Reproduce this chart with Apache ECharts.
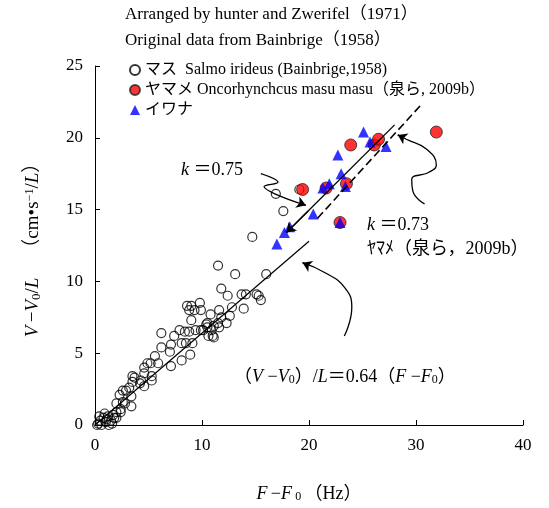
<!DOCTYPE html>
<html>
<head>
<meta charset="utf-8">
<script src="https://cdn.jsdelivr.net/npm/echarts@6/dist/echarts.min.js"></script>
<style>
  html, body { margin: 0; background: #fff; }
  #chart { width: 549px; height: 508px; }
</style>
</head>
<body>
<div id="chart"></div>
<script>
// マス (Bainbrige, 1958), open circles
const masuData = [
  [0.2, 0.0], [0.3, 0.1], [0.5, 0.3], [0.6, 0.0], [0.8, 0.5], [1.0, 0.2], [1.1, 0.4], [1.2, 0.6],
  [1.3, 0.0], [1.5, 0.3], [1.6, 0.1], [0.9, 0.8], [0.4, 0.6], [1.8, 0.5], [1.7, 0.7], [2.0, 0.5],
  [2.4, 0.9], [2.0, 0.9], [2.4, 1.1], [2.0, 1.5], [2.6, 1.6], [2.8, 1.5], [3.4, 1.3], [3.4, 2.0],
  [2.3, 2.1], [2.6, 2.4], [2.9, 2.4], [3.2, 2.6], [3.5, 3.0], [3.7, 3.3], [4.2, 2.9], [4.6, 2.7],
  [4.3, 3.1], [3.5, 3.4], [4.6, 3.6], [5.3, 3.4], [5.3, 3.1], [4.6, 4.0], [4.9, 4.3], [5.2, 4.3],
  [5.9, 4.3], [5.6, 4.8], [7.1, 4.1], [8.1, 4.5], [8.9, 4.9], [7.0, 5.1], [7.1, 5.6], [6.2, 5.4],
  [8.1, 5.7], [8.5, 5.7], [9.1, 5.7], [6.2, 6.4], [7.4, 6.2], [7.9, 6.6], [8.4, 6.5], [8.8, 6.5],
  [9.4, 6.6], [9.9, 6.6], [10.1, 6.6], [9.0, 7.3], [10.5, 7.1], [10.4, 7.0], [10.5, 6.8], [10.9, 6.6],
  [11.0, 6.2], [10.6, 6.2], [11.1, 6.1], [11.1, 6.9], [11.6, 6.8], [11.5, 7.1], [12.3, 7.1], [10.8, 7.7],
  [11.8, 7.5], [12.6, 7.6], [11.6, 8.0], [12.8, 8.2], [13.9, 8.1], [8.8, 8.0], [9.3, 8.0], [9.9, 8.0],
  [8.6, 8.3], [9.0, 8.3], [9.8, 8.5], [11.8, 9.5], [12.4, 9.0], [13.7, 9.1], [14.1, 9.1], [15.1, 9.1],
  [15.3, 9.0], [15.5, 8.7], [11.5, 11.1], [13.1, 10.5], [16.0, 10.5], [14.7, 13.1], [17.6, 14.9],
  [16.9, 16.1], [19.1, 16.4]
];

// ヤマメ (泉ら, 2009b), red circles
const yamameData = [
  [19.4, 16.4], [21.6, 16.5], [23.5, 16.8], [22.9, 14.1], [23.9, 19.5], [26.1, 19.5], [26.5, 19.9], [31.9, 20.4]
];

// イワナ, blue triangles
const iwanaData = [
  [17.0, 12.6], [17.7, 13.4], [18.2, 13.8], [20.4, 14.7], [21.3, 16.5], [21.9, 16.8], [23.4, 16.6],
  [23.0, 17.5], [22.7, 18.8], [22.9, 14.1], [25.1, 20.4], [25.7, 19.7], [27.2, 19.4]
];

// regression lines
const fit064 = [[0, 0], [20.0, 12.8]];
const fit075 = [[28.0, 20.9], [17.9, 13.4]];
const fit073 = [[20.8, 14.4], [30.6, 22.4]];

// curved annotation arrows (last point = arrow tip)
const arrowK075 = [[15.5, 17.5], [17.1, 16.9], [15.8, 16.6], [16.8, 16.1], [19.7, 15.3]];
const arrowK073 = [[30.8, 15.4], [29.7, 16.3], [29.6, 17.1], [31.2, 17.6], [31.9, 18.1], [31.0, 19.2], [29.1, 19.9], [28.3, 20.2]];
const arrowK064 = [[23.3, 6.2], [24.0, 8.2], [23.3, 9.6], [21.5, 10.6], [19.4, 11.3]];

const serif = "'Liberation Serif', 'Noto Sans CJK JP', serif";
const black = "#000";

const richStyles = {
  i: {fontStyle: "italic", fontFamily: serif, fontSize: 18, color: black},
  n: {fontFamily: serif, fontSize: 18, color: black},
  sub: {fontFamily: serif, fontSize: 12, color: black, verticalAlign: "bottom"},
  sup: {fontFamily: serif, fontSize: 11, color: black, verticalAlign: "top"},
};

const yNameRich = {
  i: {fontStyle: "italic", fontFamily: serif, fontSize: 19, color: black},
  n: {fontFamily: serif, fontSize: 19, color: black},
  sub: {fontFamily: serif, fontSize: 13, color: black, verticalAlign: "bottom"},
  sup: {fontFamily: serif, fontSize: 12, color: black, verticalAlign: "top"},
};

function arrowSeries(points, smooth) {
  const tip = points[points.length - 1];
  const prev = points[points.length - 2];
  const near = [tip[0] + (prev[0] - tip[0]) * 0.2, tip[1] + (prev[1] - tip[1]) * 0.2];
  return {
    type: "line",
    data: points,
    smooth: smooth,
    symbol: "none",
    silent: true,
    lineStyle: {color: black, width: 1.3},
    z: 5,
    markLine: {
      silent: true,
      symbol: ["none", "arrow"],
      symbolSize: 9,
      label: {show: false},
      lineStyle: {color: black, width: 1.3, type: "solid"},
      data: [[{coord: near}, {coord: tip}]],
    },
  };
}

function textEl(x, y, text, size) {
  return {
    type: "text",
    x: x,
    y: y,
    style: {
      text: text,
      fontFamily: serif,
      fontSize: size,
      fill: black,
      verticalAlign: "middle",
      rich: richStyles,
    },
  };
}

const chart = echarts.init(document.getElementById("chart"));
chart.setOption({
  animation: false,
  backgroundColor: "#fff",
  grid: {left: 95, right: 26, top: 66, bottom: 80},
  legend: {
    data: ["マス", "ヤマメ", "イワナ"],
    orient: "vertical",
    left: 124,
    top: 57,
    itemWidth: 10,
    itemHeight: 10,
    itemGap: 4,
    selectedMode: false,
    formatter: function (name) {
      if (name === "マス") return "マス  Salmo irideus (Bainbrige,1958)";
      if (name === "ヤマメ") return "ヤマメ Oncorhynchcus masu masu（泉ら, 2009b）";
      return name;
    },
    textStyle: {fontFamily: serif, fontSize: 16, color: black},
  },
  xAxis: {
    type: "value",
    min: 0,
    max: 40,
    interval: 10,
    name: "{i|F} {n|−}{i|F} {sub|0} {n|（Hz）}",
    nameLocation: "middle",
    nameGap: 60,
    nameTextStyle: {rich: richStyles},
    axisLine: {lineStyle: {color: black, width: 1}},
    axisTick: {inside: true, length: 5, lineStyle: {color: black}},
    axisLabel: {fontFamily: serif, fontSize: 17, color: black, margin: 12},
    splitLine: {show: false},
  },
  yAxis: {
    type: "value",
    min: 0,
    max: 25,
    interval: 5,
    name: "{i|V} {n|−}{i|V}{sub|0}{n|/}{i|L}      {n|（cm•s}{sup|−1}{n|/}{i|L}{n|）}",
    nameLocation: "middle",
    nameGap: 52,
    nameTextStyle: {rich: yNameRich},
    axisLine: {show: true, lineStyle: {color: black, width: 1}},
    axisTick: {show: true, inside: true, length: 5, lineStyle: {color: black}},
    axisLabel: {fontFamily: serif, fontSize: 17, color: black, margin: 12},
    splitLine: {show: false},
  },
  graphic: [
    textEl(125, 15, "Arranged by hunter and Zwerifel（1971）", 17),
    textEl(125, 41, "Original data from Bainbrige（1958）", 17),
    textEl(181, 170, "{i|k} {n|＝0.75}", 18),
    textEl(367, 225, "{i|k} {n|＝0.73}", 18),
    textEl(367, 249, "ﾔﾏﾒ（泉ら，2009b）", 18),
    textEl(234, 377, "{n|（}{i|V} {n|−}{i|V}{sub|0}{n|）/}{i|L}{n|＝0.64（}{i|F} {n|−}{i|F}{sub|0}{n|）}", 18),
  ],
  series: [
    {
      name: "マス",
      type: "scatter",
      data: masuData,
      symbol: "circle",
      symbolSize: 9,
      itemStyle: {color: "rgba(255,255,255,0)", borderColor: black, borderWidth: 1.2},
      z: 2,
    },
    {
      name: "ヤマメ",
      type: "scatter",
      data: yamameData,
      symbol: "circle",
      symbolSize: 12,
      itemStyle: {color: "#ff0000", borderColor: "#222", borderWidth: 1},
      z: 3,
    },
    {
      name: "イワナ",
      type: "scatter",
      data: iwanaData,
      symbol: "triangle",
      symbolSize: 11,
      itemStyle: {color: "#0000ff"},
      z: 4,
    },
    {
      type: "line",
      data: fit064,
      symbol: "none",
      silent: true,
      lineStyle: {color: black, width: 1.2},
      z: 5,
    },
    arrowSeries(fit075, false),
    {
      type: "line",
      data: fit073,
      symbol: "none",
      silent: true,
      lineStyle: {color: black, width: 1.6, type: [8, 4]},
      z: 5,
    },
    arrowSeries(arrowK075, 0.4),
    arrowSeries(arrowK073, 0.5),
    arrowSeries(arrowK064, 0.5),
  ],
});
</script>
</body>
</html>
